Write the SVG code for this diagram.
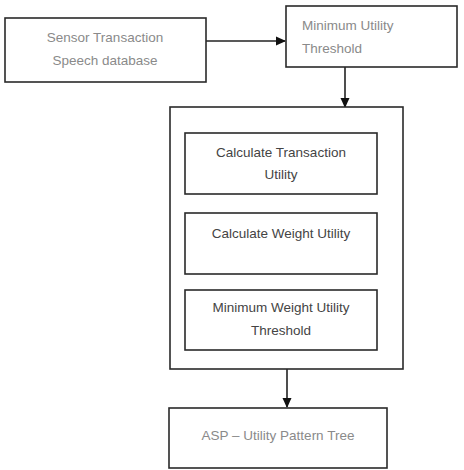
<svg xmlns="http://www.w3.org/2000/svg" width="464" height="470" viewBox="0 0 464 470">
<defs>
<style>
.box{fill:#fff;stroke:#2a2a2a;stroke-width:1.6}
.t{font-family:"Liberation Sans",Arial,sans-serif;font-size:13.5px;fill:#8a8a8a}
.td{font-family:"Liberation Sans",Arial,sans-serif;font-size:13.5px;fill:#444}
.c{stroke:#222;stroke-width:1.6;fill:none}
</style>
<marker id="ah" markerWidth="10" markerHeight="10" refX="9" refY="5" orient="auto" markerUnits="userSpaceOnUse">
<path d="M0,0.5 L10,5 L0,9.5 Z" fill="#111"/>
</marker>
</defs>
<rect width="464" height="470" fill="#fff"/>
<g id="connectors">
<line class="c" x1="206" y1="41" x2="285" y2="41" marker-end="url(#ah)"/>
<line class="c" x1="345" y1="67" x2="345" y2="107" marker-end="url(#ah)"/>
<line class="c" x1="287" y1="369" x2="287" y2="407" marker-end="url(#ah)"/>
</g>
<g id="sensor">
<rect class="box" x="5" y="18" width="201" height="64"/>
<text class="t" x="105" y="42" text-anchor="middle">Sensor Transaction</text>
<text class="t" x="105" y="65" text-anchor="middle">Speech database</text>
</g>
<g id="minutil">
<rect class="box" x="286" y="6" width="171" height="61"/>
<text class="t" x="302" y="30">Minimum Utility</text>
<text class="t" x="302" y="53">Threshold</text>
</g>
<g id="process">
<rect class="box" x="170" y="107" width="233" height="262"/>
</g>
<g id="calctu">
<rect class="box" x="185" y="133" width="192" height="61"/>
<text class="td" x="281" y="157" text-anchor="middle">Calculate Transaction</text>
<text class="td" x="281" y="179" text-anchor="middle">Utility</text>
</g>
<g id="calcwu">
<rect class="box" x="185" y="213" width="192" height="61"/>
<text class="td" x="281" y="238" text-anchor="middle">Calculate Weight Utility</text>
</g>
<g id="minwu">
<rect class="box" x="185" y="290" width="192" height="60"/>
<text class="td" x="281" y="312" text-anchor="middle">Minimum Weight Utility</text>
<text class="td" x="281" y="335" text-anchor="middle">Threshold</text>
</g>
<g id="asp">
<rect class="box" x="169" y="408" width="218" height="60"/>
<text class="t" x="278" y="440" text-anchor="middle">ASP – Utility Pattern Tree</text>
</g>
</svg>
